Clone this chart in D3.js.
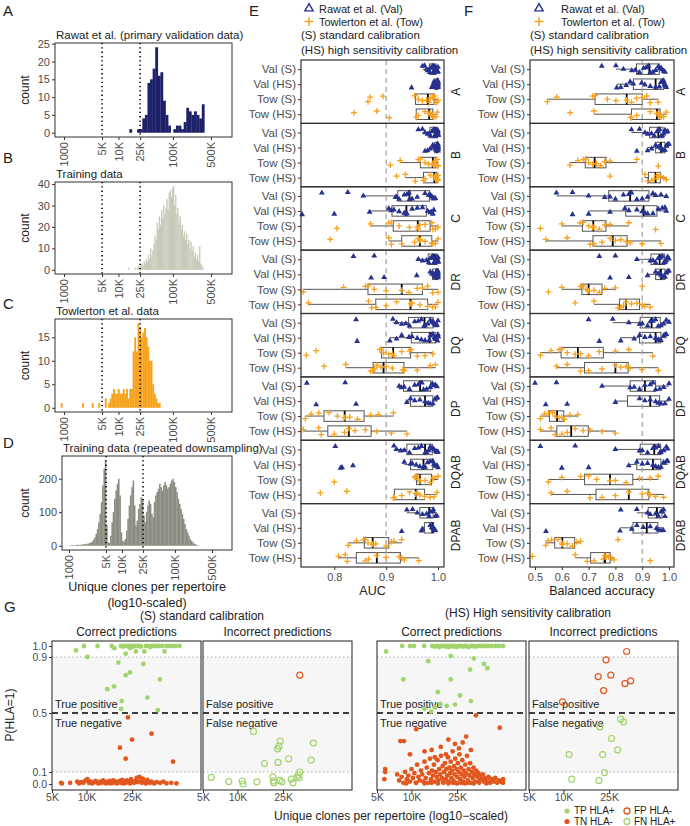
<!DOCTYPE html>
<html><head><meta charset="utf-8">
<script src="https://cdn.jsdelivr.net/npm/d3@7"></script>
<style>body{margin:0;background:#fff} svg{font-family:"Liberation Sans",Arial,sans-serif}</style>
</head><body><svg id="c" width="690" height="826"></svg>
<script>
// ---------- Histogram data (log10 bin start, bin width, counts) ----------
const histTicks = [1000, 5000, 10000, 25000, 100000, 500000];
const histTickLabels = ["1000","5K","10K","25K","100K","500K"];
const cutoffs = [5000, 25000];

const startA = 4.2, widthA = 0.0475;
const countsA = [1,0,0,1,1,4,5,14,15,18,24,16,17,9,5,2,0,1,2,2,1,3,7,6,5,6,5,4,8];

const startB = 4.18, widthB = 0.02;
const countsB = [1,0,0,0,0,0,1,0,1,2,1,2,3,2,4,3,5,4,7,5,10,6,9,12,16,14,22,19,25,21,28,24,30,26,29,33,28,36,37,34,38,39,30,35,26,29,22,25,19,21,16,18,14,17,12,14,10,13,9,11,6,8,5,7,4,11,3,2,1];

const startC = 2.94, widthC = 0.03;
const countsC = [1,0,0,0,0,0,0,0,0,0,0,0,0,1,0,0,0,0,0,1,0,0,0,1,0,0,0,2,0,1,2,3,4,3,3,4,3,3,4,3,4,2,4,4,12,15,12,18,17,15,16,17,15,13,10,10,5,3,2,1,1];

const startD = 3.0, widthD = 0.025;
const countsD = [1,1,2,1,2,2,3,2,3,3,4,5,4,6,6,8,10,12,18,25,35,50,70,95,130,180,230,255,60,10,8,30,70,100,140,165,185,200,150,40,15,12,20,45,80,120,150,175,195,120,60,75,110,125,145,140,90,70,100,120,135,125,95,85,130,150,160,170,185,175,165,180,190,180,170,175,185,195,200,190,175,160,140,125,110,95,80,65,50,40,30,20,14,10,6,4,2,1];

// ---------- Box plot data (E: AUC, F: balanced accuracy) ----------
const rowLabels = ["Val (S)","Val (HS)","Tow (S)","Tow (HS)"];
const facets = ["A","B","C","DR","DQ","DP","DQAB","DPAB"];

const aucA = [
 [0.970,0.974,0.978,0.980,0.982,0.984,0.986,0.988,0.990,0.991,0.992,0.993,0.994,0.995,0.996,0.997,0.998,0.999,1.0,1.0],
 [0.949,0.988,0.990,0.992,0.993,0.994,0.995,0.996,0.997,0.997,0.998,0.998,0.999,0.999,1.0,1.0,1.0,1.0,1.0,1.0],
 [0.865,0.869,0.894,0.955,0.962,0.970,0.978,0.983,0.985,0.990,0.993,0.996,0.998,1.0],
 [0.838,0.882,0.906,0.958,0.962,0.975,0.983,0.985,0.987,0.990,0.992,0.996,0.999]];
const aucB = [
 [0.962,0.970,0.975,0.980,0.983,0.985,0.988,0.990,0.992,0.993,0.995,0.996,0.997,0.998,0.999,1.0,1.0,1.0,1.0,1.0],
 [0.975,0.980,0.985,0.990,0.992,0.994,0.995,0.996,0.997,0.998,0.998,0.999,0.999,1.0,1.0,1.0,1.0,1.0,1.0,1.0],
 [0.908,0.927,0.962,0.966,0.975,0.982,0.990,0.992,0.994,0.996,0.998,1.0,1.0],
 [0.920,0.937,0.956,0.972,0.975,0.985,0.993,0.996,0.997,0.998,0.999,1.0,1.0]];
const aucC = [
 [0.776,0.826,0.856,0.918,0.920,0.925,0.935,0.940,0.944,0.945,0.950,0.960,0.975,0.982,0.985,0.988,0.990,0.992,0.995],
 [0.738,0.800,0.868,0.905,0.910,0.915,0.925,0.935,0.938,0.940,0.950,0.960,0.970,0.980,0.985,0.988,0.990,0.992],
 [0.805,0.870,0.905,0.910,0.925,0.945,0.960,0.962,0.965,0.975,0.988,0.990,0.995,1.0],
 [0.792,0.905,0.910,0.930,0.955,0.962,0.965,0.966,0.975,0.988,0.990,0.995,1.0]];
const aucDR = [
 [0.837,0.877,0.962,0.970,0.978,0.982,0.985,0.988,0.990,0.992,0.993,0.995,0.996,0.997,0.998,0.999,1.0,1.0,1.0,1.0],
 [0.871,0.896,0.959,0.985,0.988,0.990,0.992,0.994,0.995,0.996,0.997,0.998,0.998,0.999,1.0,1.0,1.0,1.0,1.0,1.0],
 [0.740,0.818,0.860,0.865,0.877,0.900,0.930,0.944,0.960,0.970,0.980,0.990,1.0],
 [0.750,0.866,0.872,0.880,0.900,0.920,0.947,0.950,0.965,0.980,0.990,0.995,1.0]];
const aucDQ = [
 [0.842,0.913,0.920,0.930,0.938,0.945,0.955,0.962,0.968,0.973,0.975,0.980,0.985,0.988,0.990,0.992,0.994,0.996,0.998,1.0],
 [0.844,0.907,0.920,0.930,0.944,0.950,0.960,0.968,0.975,0.983,0.985,0.988,0.990,0.993,0.995,0.997,0.999,1.0,1.0,1.0],
 [0.746,0.765,0.888,0.890,0.895,0.905,0.912,0.915,0.930,0.945,0.948,0.960,0.975,0.990],
 [0.780,0.822,0.870,0.874,0.878,0.882,0.890,0.900,0.912,0.932,0.935,0.960,0.985,0.995]];
const aucDP = [
 [0.747,0.821,0.925,0.929,0.935,0.945,0.955,0.962,0.969,0.972,0.978,0.985,0.989,0.992,0.995,0.998],
 [0.765,0.842,0.940,0.947,0.955,0.965,0.975,0.981,0.985,0.990,0.994,0.997,0.999],
 [0.744,0.755,0.770,0.790,0.806,0.820,0.830,0.845,0.870,0.885,0.914],
 [0.740,0.770,0.775,0.800,0.820,0.828,0.840,0.860,0.882,0.910,0.940]];
const aucDQAB = [
 [0.802,0.915,0.920,0.928,0.935,0.945,0.955,0.962,0.968,0.975,0.978,0.982,0.985,0.988,0.990,0.993,0.996,0.998,1.0],
 [0.812,0.815,0.836,0.935,0.947,0.950,0.958,0.965,0.972,0.975,0.980,0.985,0.990,0.992,0.995,0.998,1.0],
 [0.800,0.955,0.957,0.960,0.961,0.965,0.975,0.985,0.990,0.992,1.0],
 [0.773,0.824,0.914,0.916,0.930,0.945,0.957,0.960,0.965,0.974,0.985,0.992,0.998]];
const aucDPAB = [
 [0.940,0.951,0.960,0.970,0.978,0.983,0.985,0.990,0.991,0.995,0.998],
 [0.930,0.968,0.970,0.985,0.988,0.990,0.990,0.992,0.993,0.995],
 [0.827,0.843,0.856,0.860,0.865,0.874,0.880,0.900,0.910,0.915,0.930],
 [0.808,0.821,0.825,0.860,0.866,0.882,0.900,0.925,0.930,0.935,0.963]];

const baA = [
 [0.749,0.802,0.830,0.861,0.875,0.890,0.905,0.915,0.923,0.930,0.940,0.950,0.960,0.965,0.970,0.975,0.980,0.985],
 [0.805,0.820,0.840,0.855,0.867,0.898,0.910,0.930,0.950,0.964,0.970,0.975,0.980,0.983,0.985,0.987,0.990],
 [0.546,0.581,0.715,0.724,0.770,0.802,0.842,0.860,0.879,0.900,0.917,0.930,0.960],
 [0.631,0.720,0.857,0.860,0.880,0.930,0.955,0.962,0.964,0.967,0.970,0.980,0.990]];
const baB = [
 [0.860,0.890,0.910,0.920,0.935,0.945,0.955,0.960,0.965,0.970,0.975,0.980,0.985,0.990,0.995],
 [0.880,0.920,0.935,0.950,0.960,0.965,0.970,0.975,0.980,0.985,0.990,0.995,1.0],
 [0.630,0.660,0.680,0.690,0.700,0.715,0.730,0.745,0.760,0.780,0.880,0.960],
 [0.780,0.910,0.920,0.935,0.945,0.955,0.960,0.970,0.980,0.990]];
const baC = [
 [0.580,0.640,0.700,0.760,0.780,0.800,0.830,0.850,0.860,0.880,0.900,0.920,0.940,0.950,0.970,0.990],
 [0.640,0.700,0.780,0.835,0.850,0.880,0.900,0.910,0.920,0.940,0.960,0.975,0.985,0.990],
 [0.520,0.600,0.668,0.680,0.700,0.715,0.720,0.740,0.760,0.780,0.850,0.950],
 [0.540,0.620,0.705,0.720,0.750,0.780,0.800,0.820,0.840,0.855,0.900,0.970]];
const baDR = [
 [0.740,0.800,0.880,0.930,0.940,0.950,0.960,0.970,0.975,0.980,0.985,0.990,0.995,1.0],
 [0.780,0.850,0.920,0.950,0.960,0.965,0.970,0.975,0.980,0.985,0.990,0.995,1.0],
 [0.550,0.600,0.670,0.680,0.690,0.700,0.720,0.740,0.760,0.800,0.900],
 [0.650,0.720,0.810,0.820,0.830,0.840,0.860,0.880,0.900,0.910,0.930]];
const baDQ = [
 [0.700,0.790,0.850,0.890,0.900,0.920,0.930,0.940,0.950,0.960,0.970,0.980,0.990,1.0],
 [0.740,0.820,0.870,0.890,0.910,0.930,0.950,0.960,0.965,0.970,0.980,0.985,0.990],
 [0.520,0.560,0.590,0.600,0.620,0.650,0.670,0.700,0.740,0.800,0.850,0.940],
 [0.580,0.620,0.670,0.700,0.750,0.800,0.820,0.840,0.855,0.900,0.960]];
const baDP = [
 [0.500,0.580,0.750,0.855,0.870,0.890,0.910,0.930,0.940,0.950,0.965,0.980,1.0],
 [0.540,0.620,0.800,0.890,0.910,0.930,0.950,0.960,0.970,0.985,1.0],
 [0.520,0.535,0.550,0.565,0.575,0.590,0.600,0.610,0.630,0.660],
 [0.520,0.560,0.575,0.600,0.620,0.650,0.680,0.705,0.750,0.800]];
const baDQAB = [
 [0.520,0.650,0.800,0.890,0.900,0.920,0.940,0.950,0.960,0.965,0.970,0.980,0.990,0.995],
 [0.600,0.700,0.850,0.880,0.900,0.920,0.940,0.950,0.960,0.970,0.980,0.990,0.995],
 [0.550,0.600,0.670,0.700,0.730,0.780,0.800,0.840,0.890,0.930,0.960],
 [0.560,0.620,0.705,0.750,0.800,0.850,0.900,0.920,0.930,0.950,0.980]];
const baDPAB = [
 [0.820,0.880,0.920,0.930,0.950,0.960,0.970,0.975,0.980,0.985],
 [0.541,0.817,0.861,0.880,0.904,0.930,0.953,0.960,0.970,0.979],
 [0.540,0.548,0.562,0.585,0.600,0.602,0.620,0.640,0.656,0.670,0.810],
 [0.490,0.650,0.695,0.720,0.755,0.761,0.765,0.775,0.786,0.795,0.930]];

const aucData = [aucA, aucB, aucC, aucDR, aucDQ, aucDP, aucDQAB, aucDPAB];
const baData = [baA, baB, baC, baDR, baDQ, baDP, baDQAB, baDPAB];
const aucTicks = [0.8, 0.9, 1.0];
const baTicks = [0.5, 0.6, 0.7, 0.8, 0.9, 1.0];

// ---------- Panel G data: [unique clones (thousands), P(HLA=1)] ----------
const sTP = [[8.1,0.96],[9.5,1],[10.2,0.9],[12.5,1],[16.6,1],[17.5,0.98],[19,0.86],[20,1],[20.8,0.995],[21.5,1],[22,0.93],[22.8,1],[23.5,1],[24,0.98],[24.8,1],[25.5,0.995],[26.5,1],[27,0.95],[28,1],[29,1],[30,0.995],[31.4,0.85],[32,0.95],[33,1],[34.5,1],[36,0.99],[37,1],[39,1],[41,1],[43,1],[46,1],[48,0.95],[50,1],[53,1],[56,1],[60,1],[65,1],[22,0.77],[24,0.79],[43.8,0.74],[15.2,0.67],[17.4,0.69],[20.3,0.585],[34,0.61],[20,0.53],[42,0.52]];
const sTN = [[23,0.47],[25,0.32],[19.6,0.265],[22,0.19],[37,0.36],[57,0.17],
 [6,0.01],[6.1,0.005],[7.2,0.01],[8.3,0.02],[8.6,0.005],[9,0.015],[9.4,0.01],[9.8,0.03],[10.2,0.04],[10.5,0.01],[10.8,0.02],[11.2,0.005],[11.6,0.015],[12,0.025],[12.4,0.01],[12.8,0.005],[13.2,0.02],[13.6,0.01],[14,0.03],[14.4,0.015],[14.8,0.005],[15.2,0.02],[15.6,0.01],[16,0.025],[16.4,0.005],[16.8,0.015],[17.2,0.03],[17.6,0.01],[18,0.02],[18.5,0.005],[19,0.015],[19.5,0.025],[20,0.01],[20.5,0.035],[21,0.005],[21.5,0.02],[22,0.01],[22.5,0.03],[23,0.015],[24,0.005],[24.5,0.04],[25,0.02],[26,0.01],[27,0.03],[27.5,0.05],[28,0.015],[29,0.06],[30,0.025],[30.5,0.01],[31,0.045],[32,0.02],[33,0.005],[34,0.035],[35,0.015],[36,0.01],[37,0.02],[39,0.005],[41,0.015],[44,0.01],[47,0.02],[50,0.005],[55,0.01],[61,0.005]];
const sFP = [[35,0.77]];
const sFN = [[5.9,0.055],[8.4,0.02],[11,0.025],[11.2,0.0],[13.8,0.375],[14.8,0.018],[17.2,0.157],[20.4,0.06],[20.6,0.025],[20.8,0.01],[22.6,0.165],[22.4,0.257],[23,0.275],[23.6,0.31],[23.5,0.03],[24.5,0.018],[28,0.19],[29.5,0.04],[30.5,0.01],[33,0.058],[34,0.075],[35,0.1],[34.5,0.05],[44,0.18],[46,0.296]];
const hsTP = [[6,0.95],[8.3,1],[9.7,1],[10.5,1],[12.9,1],[15.2,1],[16,0.995],[16.8,1],[17.5,0.99],[18.2,1],[19,1],[19.8,0.995],[20.5,1],[21.2,0.99],[22,1],[22.8,1],[23.5,0.995],[24.3,1],[25,0.99],[26,1],[27,1],[28,0.995],[29,1],[30,1],[31.5,0.99],[33,1],[34.5,1],[36,0.995],[38,1],[40,1],[42,1],[44,1],[47,1],[50,1],[54,1],[58,1],[63,1],[14,0.87],[22,0.91],[35,0.89],[32.5,0.81],[43,0.85],[46,0.82],[8.5,0.74],[22,0.74],[17,0.65],[26.5,0.625],[33,0.585],[17.8,0.565],[20.3,0.55],[24,0.56],[14.8,0.51],[13,0.53],[16,0.54]];
const hsTN = [[5.9,0.12],[5.9,0.1],[5.8,0.04],[11,0.39],[36.5,0.484],[59,0.4],[8,0.31],[8.6,0.31],[9.7,0.22],[21,0.32],[30,0.34],[28,0.3],[24,0.29],[18,0.27],[15,0.25],[13,0.24],[26,0.26],[33,0.25],[20,0.22],[16,0.2],
 [7.5,0.08],[7.8,0.03],[8.2,0.06],[8.5,0.01],[8.8,0.1],[9.1,0.04],[9.4,0.07],[9.7,0.02],[10,0.12],[10.3,0.05],[10.6,0.09],[10.9,0.01],[11.2,0.15],[11.5,0.06],[11.8,0.03],[12.1,0.11],[12.4,0.08],[12.7,0.02],[13,0.17],[13.3,0.05],[13.6,0.13],[13.9,0.01],[14.2,0.09],[14.5,0.19],[14.8,0.04],[15.1,0.11],[15.4,0.07],[15.7,0.15],[16,0.02],[16.3,0.1],[16.6,0.06],[16.9,0.18],[17.2,0.03],[17.5,0.12],[17.8,0.08],[18.1,0.21],[18.4,0.05],[18.7,0.14],[19,0.01],[19.3,0.1],[19.6,0.16],[19.9,0.04],[20.2,0.12],[20.5,0.07],[20.8,0.2],[21.1,0.02],[21.4,0.13],[21.7,0.09],[22,0.17],[22.3,0.05],[22.6,0.11],[22.9,0.24],[23.2,0.03],[23.5,0.14],[23.8,0.08],[24.1,0.19],[24.4,0.01],[24.7,0.12],[25,0.06],[25.4,0.16],[25.8,0.1],[26.2,0.22],[26.6,0.04],[27,0.13],[27.4,0.08],[27.8,0.18],[28.2,0.02],[28.6,0.11],[29,0.06],[29.5,0.15],[30,0.09],[30.5,0.21],[31,0.03],[31.5,0.12],[32,0.07],[32.5,0.16],[33,0.01],[33.6,0.1],[34.2,0.05],[34.8,0.13],[35.4,0.08],[36,0.02],[36.8,0.11],[37.6,0.06],[38.4,0.09],[39.2,0.03],[40,0.07],[41,0.04],[42,0.08],[43,0.02],[44,0.05],[45.5,0.03],[47,0.06],[48.5,0.01],[50,0.04],[52,0.02],[54,0.05],[56,0.01],[58,0.03],[60,0.02],[63,0.04],[63,0.01],
 [9,0.005],[11,0.01],[13,0.005],[15,0.01],[17,0.005],[19,0.015],[21,0.005],[23,0.01],[25,0.005],[27,0.01],[29,0.005],[31,0.01],[35,0.005],[39,0.01],[45,0.005]];
const hsFP = [[35.6,0.95],[23.5,0.88],[20.1,0.76],[25.9,0.77],[34.4,0.71],[38.6,0.73],[22.4,0.66],[9.8,0.58]];
const hsFN = [[20.8,0.406],[31.6,0.458],[33.5,0.44],[26.3,0.327],[11.2,0.218],[22,0.218],[29.7,0.25],[22.8,0.095],[11.8,0.04],[20.4,0.03]];
const gTicks = [5000, 10000, 25000];
const gTickLabels = ["5K","10K","25K"];
const gYTicks = [0, 0.1, 0.5, 0.9, 1.0];

// ---------- drawing ----------
const svg = d3.select("#c");
const FONT = '"Liberation Sans", Arial, sans-serif';
const TXT = "#222", TICK = "#4d4d4d";

function styleAxis(a, size) {
  a.attr("font-family", FONT).attr("font-size", size || 10.5);
  a.selectAll("text").attr("fill", TICK);
  a.selectAll("line").attr("stroke", "#333");
  a.select(".domain").remove();
}
function txt(x, y, s, o) {
  o = o || {};
  const t = svg.append("text").attr("x", x).attr("y", y).text(s)
    .attr("font-size", o.size || 11.5).attr("fill", o.fill || TXT)
    .attr("text-anchor", o.anchor || "start");
  if (o.rot) t.attr("transform", `rotate(${o.rot},${x},${y})`);
  return t;
}

// panel letters
[["A",3,16],["B",3,163],["C",3,309],["D",3,448],["E",249,16],["F",464,16],["G",4,612]].forEach(d =>
  txt(d[1], d[2], d[0], {size: 15}));

function drawHist(c) {
  const x = d3.scaleLog().domain([1000, 500000]).range(c.xr);
  const y = d3.scaleLinear().domain([-0.05 * c.ymax, 1.05 * c.ymax]).range([c.y1, c.y0]);
  const g = svg.append("g");
  const edge = i => x(Math.pow(10, c.start + i * c.width));
  g.selectAll("rect.bar").data(c.counts).join("rect")
    .attr("x", (d, i) => edge(i)).attr("width", (d, i) => edge(i + 1) - edge(i) + 0.25)
    .attr("y", d => y(d)).attr("height", d => y(0) - y(d)).attr("fill", c.color);
  cutoffs.forEach(v => g.append("line").attr("x1", x(v)).attr("x2", x(v))
    .attr("y1", c.y0).attr("y2", c.y1).attr("stroke", "#000").attr("stroke-width", 1.6)
    .attr("stroke-dasharray", "1.3,3"));
  g.append("rect").attr("x", c.x0).attr("y", c.y0).attr("width", c.x1 - c.x0).attr("height", c.y1 - c.y0)
    .attr("fill", "none").attr("stroke", "#333").attr("stroke-width", 1);
  const ya = g.append("g").attr("transform", `translate(${c.x0},0)`)
    .call(d3.axisLeft(y).tickValues(c.yticks).tickSize(3).tickPadding(2));
  styleAxis(ya, 11);
  const xa = g.append("g").attr("transform", `translate(0,${c.y1})`)
    .call(d3.axisBottom(x).tickValues(histTicks).tickFormat((d, i) => histTickLabels[i]).tickSize(3));
  styleAxis(xa, 11);
  xa.selectAll("text").attr("transform", "rotate(-90)").attr("text-anchor", "end")
    .attr("x", -5).attr("y", 0).attr("dy", "0.35em");
  txt(c.x0 + 1, c.y0 - 4, c.title, {size: 11.5});
  txt(29, (c.y0 + c.y1) / 2, "count", {size: 12, anchor: "middle", rot: -90});
}

drawHist({x0:55, x1:232, y0:43, y1:137, xr:[64,211], ymax:24, yticks:[0,5,10,15,20,25],
  counts:countsA, start:startA, width:widthA, color:"#1c2169", title:"Rawat et al. (primary validation data)"});
drawHist({x0:55, x1:232, y0:182, y1:274, xr:[64,211], ymax:39, yticks:[0,10,20,30,40],
  counts:countsB, start:startB, width:widthB, color:"#c9c9ba", title:"Training data"});
drawHist({x0:55, x1:232, y0:319, y1:412, xr:[64,211], ymax:18, yticks:[0,5,10,15],
  counts:countsC, start:startC, width:widthC, color:"#f6a21c", title:"Towlerton et al. data"});
drawHist({x0:62, x1:232, y0:456, y1:550, xr:[69,212], ymax:255, yticks:[0,100,200],
  counts:countsD, start:startD, width:widthD, color:"#8c8c82", title:"Training data (repeated downsampling)"});
txt(147, 591, "Unique clones per repertoire", {size: 12.5, anchor: "middle"});
txt(147, 607, "(log10-scaled)", {size: 12.5, anchor: "middle"});

// ---------- E / F ----------
const NAVY = "#27318f", ORANGE = "#f8a11c";
const jit = [-3,1.5,-1,3.5,-2.5,0.5,2.5,-3.5,1,-1.5,3,-0.5,2,-2,0,3.2,-3.2,1.2,-1.2,2.8];
function stats(v) {
  const s = v.slice().sort(d3.ascending);
  const q1 = d3.quantile(s, 0.25), med = d3.quantile(s, 0.5), q3 = d3.quantile(s, 0.75), iqr = q3 - q1;
  return {q1, med, q3, lo: d3.min(s.filter(d => d >= q1 - 1.5 * iqr)), hi: d3.max(s.filter(d => d <= q3 + 1.5 * iqr))};
}
function boxPanel(o) {
  const x = d3.scaleLinear().domain(o.domain).range(o.range);
  const top = 60, bottom = 567, fh = (bottom - top) / 8;
  const yb = d3.scalePoint().domain(rowLabels).range([0, fh]).padding(0.61);
  o.data.forEach((facet, fi) => {
    const g = svg.append("g").attr("transform", `translate(0,${top + fi * fh})`);
    facet.forEach((vals, ri) => {
      const cy = yb(rowLabels[ri]), st = stats(vals), bh = 10.5;
      const col = "#555";
      g.append("line").attr("x1", x(st.lo)).attr("x2", x(st.q1)).attr("y1", cy).attr("y2", cy).attr("stroke", col);
      g.append("line").attr("x1", x(st.q3)).attr("x2", x(st.hi)).attr("y1", cy).attr("y2", cy).attr("stroke", col);
      g.append("rect").attr("x", x(st.q1)).attr("y", cy - bh / 2).attr("width", x(st.q3) - x(st.q1)).attr("height", bh)
        .attr("fill", "none").attr("stroke", col).attr("stroke-width", 1);
      g.append("line").attr("x1", x(st.med)).attr("x2", x(st.med)).attr("y1", cy - bh / 2).attr("y2", cy + bh / 2)
        .attr("stroke", "#000").attr("stroke-width", 1.8);
    });
    g.append("line").attr("x1", x(0.9)).attr("x2", x(0.9)).attr("y1", 0).attr("y2", fh)
      .attr("stroke", "#a6a6a6").attr("stroke-width", 1.3).attr("stroke-dasharray", "5,4");
    facet.forEach((vals, ri) => {
      const cy = yb(rowLabels[ri]);
      const pts = g.selectAll(null).data(vals).join("path")
        .attr("transform", (d, i) => `translate(${x(d)},${cy + jit[(i * 7 + ri * 3) % jit.length]})`);
      if (ri < 2) pts.attr("d", d3.symbol(d3.symbolTriangle, 15)).attr("fill", NAVY);
      else pts.attr("d", "M-3,0H3M0,-3V3").attr("stroke", ORANGE).attr("stroke-width", 1.3).attr("fill", "none");
    });
    g.append("rect").attr("x", o.x0).attr("y", 0).attr("width", o.x1 - o.x0).attr("height", fh)
      .attr("fill", "none").attr("stroke", "#333").attr("stroke-width", 1.2);
    const ya = g.append("g").attr("transform", `translate(${o.x0},0)`).call(d3.axisLeft(yb).tickSize(3).tickPadding(2));
    styleAxis(ya, 11.5);
    g.append("text").attr("transform", `translate(${o.stripX},${fh / 2}) rotate(-90)`)
      .attr("text-anchor", "middle").attr("dy", "0.32em").attr("font-size", 12).attr("fill", TXT).text(facets[fi]);
  });
  const xa = svg.append("g").attr("transform", `translate(0,${bottom})`)
    .call(d3.axisBottom(x).tickValues(o.ticks).tickFormat(d3.format(".1f")).tickSize(3));
  styleAxis(xa, 11);
  txt((o.x0 + o.x1) / 2, 595, o.title, {size: 12.5, anchor: "middle"});
  // legend
  svg.append("path").attr("transform", `translate(${o.legX},8.5)`).attr("d", d3.symbol(d3.symbolTriangle, 30))
    .attr("fill", "none").attr("stroke", NAVY).attr("stroke-width", 1.4);
  svg.append("path").attr("transform", `translate(${o.legX},21.5)`).attr("d", "M-4.5,0H4.5M0,-4.5V4.5")
    .attr("stroke", ORANGE).attr("stroke-width", 1.4);
  txt(o.legT, 12.5, "Rawat et al. (Val)", {size: 11});
  txt(o.legT, 25.5, "Towlerton et al. (Tow)", {size: 11});
  txt(o.x0, 39, "(S) standard calibration", {size: 11.5});
  txt(o.x0, 54, "(HS) high sensitivity calibration", {size: 11.5});
}
boxPanel({x0:301, x1:444, domain:[0.8,1.0], range:[334.3,438], ticks:aucTicks, data:aucData,
  stripX:456, title:"AUC", legX:309, legT:319});
boxPanel({x0:530, x1:674, domain:[0.5,1.0], range:[535,669], ticks:baTicks, data:baData,
  stripX:681, title:"Balanced accuracy", legX:539, legT:561});

// ---------- G ----------
const GREEN = "#a2d46e", RED = "#e2571e";
const gy = d3.scaleLinear().domain([0, 0.1, 0.5, 0.9, 1.0]).range([784, 772, 713, 657, 646]);
const gTop = 641, gBot = 790, gW = 149;
function gPanel(x0, filled, open, correct, showY) {
  const x = d3.scaleLog().domain([5000, 100000]).range([x0, x0 + gW]);
  const g = svg.append("g");
  g.append("rect").attr("x", x0).attr("y", gy(0.9)).attr("width", gW).attr("height", gy(0.1) - gy(0.9)).attr("fill", "#f6f6f6");
  [0.9, 0.1].forEach(v => g.append("line").attr("x1", x0).attr("x2", x0 + gW).attr("y1", gy(v)).attr("y2", gy(v))
    .attr("stroke", "#b0b0b0").attr("stroke-width", 1.2).attr("stroke-dasharray", "1.5,2.5"));
  g.append("line").attr("x1", x0).attr("x2", x0 + gW).attr("y1", gy(0.5)).attr("y2", gy(0.5))
    .attr("stroke", "#000").attr("stroke-width", 1.6).attr("stroke-dasharray", "6,4");
  g.append("text").attr("x", x0 + 3).attr("y", gy(0.5) - 5).attr("font-size", 11).attr("fill", TXT)
    .text(correct ? "True positive" : "False positive");
  g.append("text").attr("x", x0 + 3).attr("y", gy(0.5) + 14).attr("font-size", 11).attr("fill", TXT)
    .text(correct ? "True negative" : "False negative");
  filled.forEach(s => g.selectAll(null).data(s.pts).join("circle")
    .attr("cx", d => x(d[0] * 1000)).attr("cy", d => gy(d[1])).attr("r", 2.4).attr("fill", s.col));
  open.forEach(s => g.selectAll(null).data(s.pts).join("circle")
    .attr("cx", d => x(d[0] * 1000)).attr("cy", d => gy(d[1])).attr("r", 3).attr("fill", "none")
    .attr("stroke", s.col).attr("stroke-width", 1.2));
  g.append("rect").attr("x", x0).attr("y", gTop).attr("width", gW).attr("height", gBot - gTop)
    .attr("fill", "none").attr("stroke", "#333").attr("stroke-width", 1.1);
  const xa = g.append("g").attr("transform", `translate(0,${gBot})`)
    .call(d3.axisBottom(x).tickValues(gTicks).tickFormat((d, i) => gTickLabels[i]).tickSize(3).tickPadding(1));
  styleAxis(xa, 10.5);
  if (showY) {
    const ya = g.append("g").attr("transform", `translate(${x0},0)`)
      .call(d3.axisLeft(gy).tickValues(gYTicks).tickFormat(d3.format(".1f")).tickSize(3).tickPadding(2));
    styleAxis(ya, 10.5);
  }
  txt(x0 + gW / 2, 636, correct ? "Correct predictions" : "Incorrect predictions", {size: 12, anchor: "middle"});
}
gPanel(52, [{pts: sTN, col: RED}, {pts: sTP, col: GREEN}], [], true, true);
gPanel(203, [], [{pts: sFP, col: RED}, {pts: sFN, col: GREEN}], false, false);
gPanel(377, [{pts: hsTN, col: RED}, {pts: hsTP, col: GREEN}], [], true, false);
gPanel(529, [], [{pts: hsFP, col: RED}, {pts: hsFN, col: GREEN}], false, false);
txt(202, 620, "(S) standard calibration", {size: 12, anchor: "middle"});
txt(528, 617, "(HS) High sensitivity calibration", {size: 12, anchor: "middle"});
txt(14, 715, "P(HLA=1)", {size: 12, anchor: "middle", rot: -90});
txt(391, 820, "Unique clones per repertoire (log10\u2212scaled)", {size: 12, anchor: "middle"});
// legend G
[[567, 811, "TP HLA+", GREEN, true], [627, 811, "FP HLA-", RED, false],
 [567, 821.5, "TN HLA-", RED, true], [627, 821.5, "FN HLA+", GREEN, false]].forEach(d => {
  const c = svg.append("circle").attr("cx", d[0]).attr("cy", d[1]).attr("r", d[4] ? 2.6 : 3);
  if (d[4]) c.attr("fill", d[3]); else c.attr("fill", "none").attr("stroke", d[3]).attr("stroke-width", 1.3);
  txt(d[0] + 7, d[1] + 3.4, d[2], {size: 10});
});
</script></body></html>
